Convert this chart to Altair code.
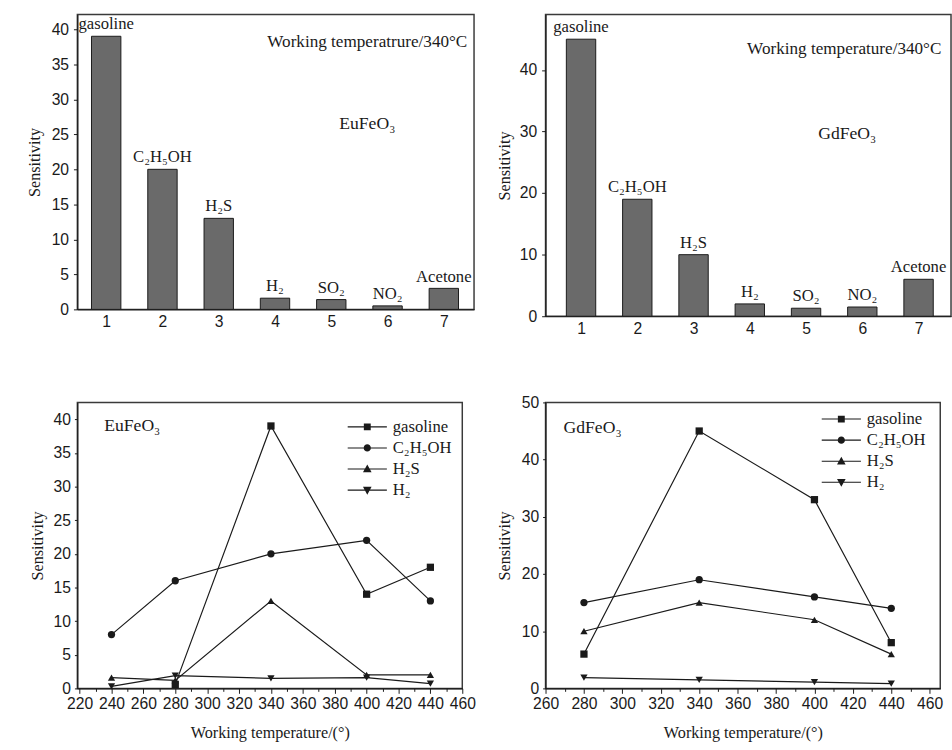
import altair as alt
import pandas as pd

# ---- sensitivity to seven test gases at a working temperature of 340 °C ----
gas_names = ["gasoline", "C₂H₅OH", "H₂S", "H₂", "SO₂", "NO₂", "Acetone"]
gas_numbers = [1, 2, 3, 4, 5, 6, 7]
eufeo3_at_340 = [39, 20, 13, 1.6, 1.4, 0.5, 3]
gdfeo3_at_340 = [45, 19, 10, 2, 1.3, 1.5, 6]

# ---- sensitivity versus working temperature ----
series_names = ["gasoline", "C₂H₅OH", "H₂S", "H₂"]
eu_temperatures = [240, 280, 340, 400, 440]
eu_gasoline = [None, 0.6, 39, 14, 18]
eu_ethanol = [8, 16, 20, 22, 13]
eu_h2s = [1.6, 1.2, 13, 2, 2]
eu_h2 = [0.3, 1.9, 1.5, 1.6, 0.7]

gd_temperatures = [280, 340, 400, 440]
gd_gasoline = [6, 45, 33, 8]
gd_ethanol = [15, 19, 16, 14]
gd_h2s = [10, 15, 12, 6]
gd_h2 = [1.9, 1.5, 1.1, 0.85]

SERIF = "Liberation Serif"
SANS = "Liberation Sans"
INK = "#1a1a1a"

marker_shapes = ["square", "circle", "triangle-up", "triangle-down"]
# legend keys: a thin horizontal bar (the line) with the marker drawn on it
KEY_LINE = "M-2.5,-0.07H2.5V0.07H-2.5Z"
key_shapes = [
    KEY_LINE + "M-0.44,-0.44H0.44V0.44H-0.44Z",
    KEY_LINE + "M0.46,0A0.46,0.46,0,1,1,-0.46,0A0.46,0.46,0,1,1,0.46,0Z",
    KEY_LINE + "M0,-0.58L0.55,0.42L-0.55,0.42Z",
    KEY_LINE + "M0,0.58L-0.55,-0.42L0.55,-0.42Z",
]


def text_layer(content, px, py, size):
    return alt.Chart(pd.DataFrame({"t": [content]})).mark_text(
        font=SERIF, fontSize=size, color=INK, align="center", baseline="middle"
    ).encode(x=alt.value(px), y=alt.value(py), text="t:N")


def bar_panel(values, width, height, x_domain, y_domain, y_ticks,
              note, note_xy, material, material_xy, title_pad):
    df = pd.DataFrame({"gas": gas_names, "n": gas_numbers, "s": values})
    x = alt.X("n:Q", scale=alt.Scale(domain=x_domain, nice=False, zero=False),
              axis=alt.Axis(values=gas_numbers, tickCount=50, format="d", title=None,
                            ticks=False, labelPadding=5, labelFlush=False))
    y = alt.Y("s:Q", scale=alt.Scale(domain=y_domain, nice=False),
              axis=alt.Axis(values=y_ticks, tickCount=50, title="Sensitivity", tickSize=4,
                            labelPadding=5, titlePadding=title_pad, labelFlush=False))
    bars = alt.Chart(df).mark_bar(size=30, fill="#6a6a6a", stroke=INK,
                                  strokeWidth=1).encode(x=x, y=y)
    labels = alt.Chart(df).mark_text(
        font=SERIF, fontSize=17, color=INK, baseline="bottom", dy=-3
    ).encode(x="n:Q", y="s:Q", text="gas:N")
    return alt.layer(
        bars, labels,
        text_layer(note, note_xy[0], note_xy[1], 17.5),
        text_layer(material, material_xy[0], material_xy[1], 18),
    ).properties(width=width, height=height)


def line_panel(temps, columns, width, height, x_domain, x_ticks, y_domain,
               y_ticks, material, material_xy, legend_xy, title_pad):
    rows = []
    for name, vals in zip(series_names, columns):
        for t, v in zip(temps, vals):
            if v is not None:
                rows.append({"gas": name, "T": t, "s": v})
    df = pd.DataFrame(rows)
    x = alt.X("T:Q", scale=alt.Scale(domain=x_domain, nice=False, zero=False),
              axis=alt.Axis(values=x_ticks, tickCount=100,
                            labelExpr="datum.value % 20 === 0 ? datum.label : ''",
                            labelOverlap=False, labelFlush=False,
                            title="Working temperature/(°)",
                            tickSize={"condition": {"test": "datum.value % 20 === 0", "value": 5}, "value": 3},
                            labelPadding=3, titlePadding=13))
    y = alt.Y("s:Q", scale=alt.Scale(domain=y_domain, nice=False),
              axis=alt.Axis(values=y_ticks, tickCount=50, title="Sensitivity", tickSize=3,
                            labelPadding=4, titlePadding=title_pad, labelFlush=False))
    lines = alt.Chart(df).mark_line(color=INK, strokeWidth=1.2).encode(
        x=x, y=y, detail="gas:N")
    points = alt.Chart(df).mark_point(filled=True, color=INK, size=55, opacity=1).encode(
        x="T:Q", y="s:Q",
        shape=alt.Shape("gas:N", scale=alt.Scale(domain=series_names, range=marker_shapes),
                        legend=None))
    key = alt.Chart(df).mark_point(filled=True, color=INK, size=0).encode(
        x="T:Q", y="s:Q",
        shape=alt.Shape("gas:N", scale=alt.Scale(domain=series_names, range=key_shapes),
                        legend=alt.Legend(
                            title=None, orient="none", legendX=legend_xy[0], legendY=legend_xy[1],
                            symbolSize=256, symbolFillColor=INK, symbolOpacity=1,
                            symbolOffset=0, labelFont=SERIF, labelFontSize=17,
                            labelColor=INK, labelOffset=17, rowPadding=4.5, padding=0)))
    return alt.layer(
        lines, points, key,
        text_layer(material, material_xy[0], material_xy[1], 18),
    ).resolve_scale(shape="independent").properties(width=width, height=height)


def spacer(w):
    return alt.Chart(pd.DataFrame({"v": [0]})).mark_point(opacity=0, size=1).encode(
        x=alt.value(0), y=alt.value(0)
    ).properties(width=w, height=1, view=alt.ViewBackground(stroke="transparent"))


eu_bars = bar_panel(eufeo3_at_340, 405, 301, [0.575, 7.45], [0, 42.1],
                    list(range(0, 41, 5)), "Working temperatrure/340°C", (296, 28),
                    "EuFeO₃", (296, 112), 9)
gd_bars = bar_panel(gdfeo3_at_340, 414, 308, [0.456, 7.49], [0, 49],
                    list(range(0, 41, 10)), "Working temperature/340°C", (305, 35),
                    "GdFeO₃", (308, 122), 7)

eu_lines = line_panel(eu_temperatures, [eu_gasoline, eu_ethanol, eu_h2s, eu_h2],
                      393, 292, [218.6, 460], list(range(220, 461, 10)), [0, 42.5],
                      list(range(0, 41, 5)), "EuFeO₃", (56, 24), (287, 16), 8)
gd_lines = line_panel(gd_temperatures, [gd_gasoline, gd_ethanol, gd_h2s, gd_h2],
                      403, 292, [260, 465.5], list(range(260, 461, 10)), [0, 50],
                      list(range(0, 51, 10)), "GdFeO₃", (48, 26), (293, 8), 9)

# four columns per row: left margin, panel, gap, panel
chart = alt.concat(
    spacer(62), eu_bars, spacer(61), gd_bars,
    spacer(77), eu_lines, spacer(73), gd_lines,
    columns=4,
    spacing={"row": 88, "column": 0},
    bounds="flush",
    align={"row": "each", "column": "none"},
).properties(
    padding={"left": 0, "top": 5, "right": 0, "bottom": 0},
    background="white",
).configure_view(
    stroke="#3a3a3a", strokeWidth=1.5
).configure_axis(
    grid=False, domainColor=INK, domainWidth=1.2, tickColor=INK, tickWidth=1,
    labelColor=INK, labelFont=SANS, labelFontSize=16,
    titleColor=INK, titleFont=SERIF, titleFontSize=16.5, titleFontWeight="normal",
)

chart.save("out.html", embed_options={"renderer": "svg", "actions": False})
